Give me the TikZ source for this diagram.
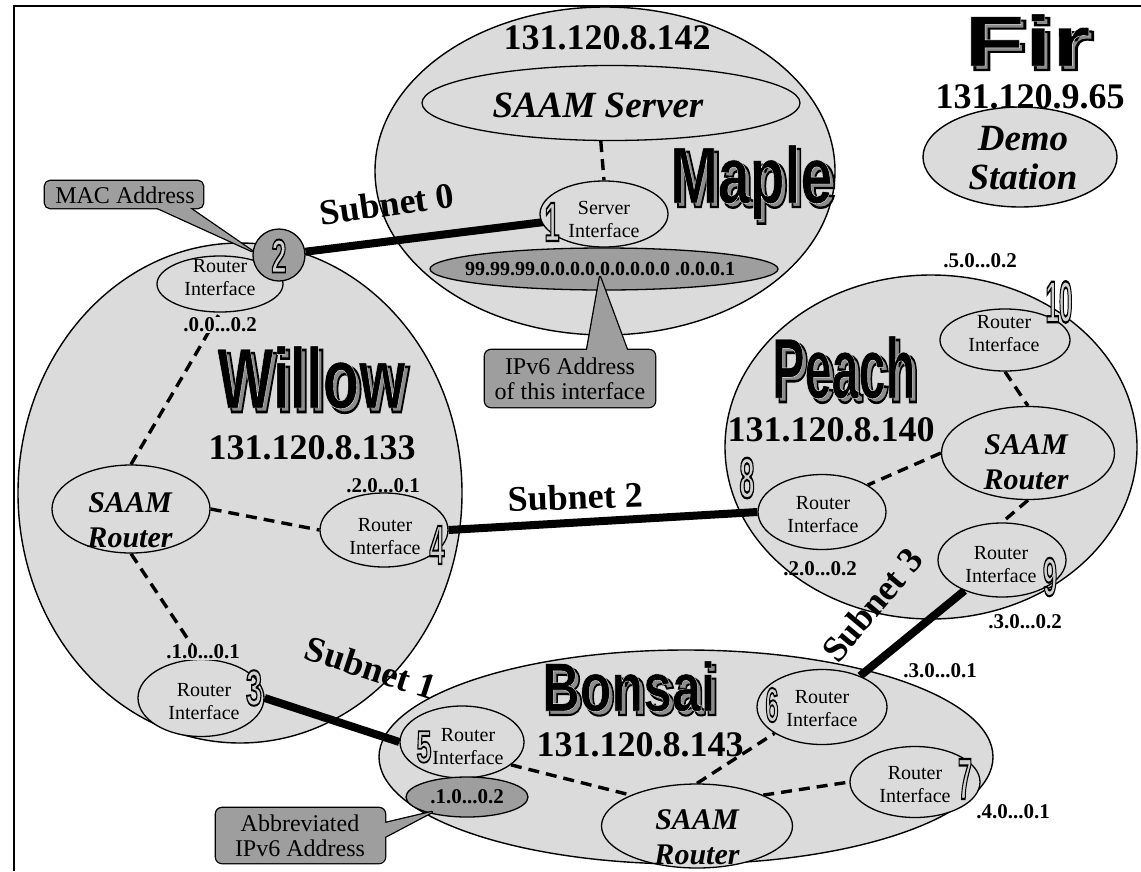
\documentclass[tikz,border=0pt]{standalone}
\usepackage{fontspec}
\usepackage{graphicx}
\setmainfont{Liberation Serif}
\newfontfamily\waOuter{Liberation Sans Bold}[FakeBold=3]
\newfontfamily\waMid{Liberation Sans Bold}[FakeBold=0.5]
\newfontfamily\waDigit{Liberation Sans Bold}[FakeBold=4]
\usetikzlibrary{shapes.geometric}
\pgfdeclarelayer{bg}
\pgfdeclarelayer{lines}
\pgfsetlayers{bg,lines,main}
\colorlet{hostfill}{black!14}
\colorlet{darkfill}{black!38}
\newcommand\strokeblack{\special{pdf:literal direct 0 G}}
\newcommand\strokewhite{\special{pdf:literal direct 1 G}}

% WordArt-like title: gray shadow with black outline, black letters with thin white edge
\newcommand\wordart[6]{%
  \node[wa] (#1-s) at (#2+4,#3+4) {\resizebox{#4pt}{#5pt}{\color{black!45}\strokeblack\waOuter #6}};
  \node[wa] (#1) at (#2,#3) {\resizebox{#4pt}{#5pt}{\color{black}\strokewhite\waMid #6}};
}
% outlined digit: light fill, black outline
\newcommand\digitart[6]{%
  \node[dg] (#1) at (#2,#3) {\resizebox{#4pt}{#5pt}{\color{black!18}\strokeblack\waDigit #6}};
}

\tikzset{
  host/.style={ellipse, draw, line width=1.4pt, fill=hostfill, inner sep=0pt},
  iface/.style={ellipse, draw, line width=1.3pt, fill=hostfill, inner sep=0pt},
  darkell/.style={ellipse, draw, line width=1.3pt, fill=darkfill, inner sep=0pt},
  dashline/.style={line width=3.4pt, dash pattern=on 11pt off 7pt},
  subnetline/.style={line width=8pt},
  wa/.style={anchor=base west, inner sep=0pt, font=\fontsize{50}{50}\selectfont},
  dg/.style={anchor=center, inner sep=0pt, font=\fontsize{50}{50}\selectfont},
  iplabel/.style={font=\bfseries\fontsize{36}{36}\selectfont, inner sep=0pt},
  subnetlabel/.style={font=\bfseries\fontsize{36}{36}\selectfont, inner sep=0pt},
  addrlabel/.style={font=\bfseries\fontsize{21}{21}\selectfont, inner sep=1pt},
  ritext/.style={font=\fontsize{20}{23}\selectfont, align=center, inner sep=0pt},
  saamtext/.style={font=\bfseries\itshape\fontsize{30}{35}\selectfont, align=center, inner sep=0pt},
  bigsaam/.style={font=\bfseries\itshape\fontsize{37}{39}\selectfont, align=center, inner sep=0pt},
  calltext/.style={font=\fontsize{24}{25}\selectfont, align=center, inner sep=0pt},
  callout/.style={line width=2.6pt, line join=round},
}

\begin{document}
\begin{tikzpicture}[x=1pt,y=-1pt]
\useasboundingbox (0,0) rectangle (1141,871);

\begin{pgfonlayer}{bg}
  \fill[white] (0,0) rectangle (1141,871);
  \draw[line width=1.8pt] (14,871) -- (14,6) -- (1141,6);
  % hosts
  \node[host, minimum width=460, minimum height=328] (maple) at (605,171) {};
  \node[host, minimum width=444, minimum height=500] (willow) at (240,493) {};
  \node[host, minimum width=412, minimum height=344] (peach) at (931,447) {};
  \node[host, minimum width=614, minimum height=214] (bonsai) at (686,757) {};
  \node[host, minimum width=194, minimum height=100] (fir) at (1020,157) {};
\end{pgfonlayer}

% inner ellipses
\node[iface, minimum width=378, minimum height=75] (sserver) at (611,103) {};
\node[iface, minimum width=128, minimum height=66] (si) at (604,214) {};
\node[darkell, minimum width=348, minimum height=42] (v6e) at (604,269) {};

\node[iface, minimum width=126, minimum height=56] (ri2) at (220,284) {};
\node[iface, minimum width=158, minimum height=88] (wsr) at (131,509) {};
\node[iface, minimum width=128, minimum height=74] (ri4) at (384,530) {};
\node[iface, minimum width=126, minimum height=77] (ri3) at (201,698) {};

\node[iface, minimum width=130, minimum height=62] (ri10) at (1005,340) {};
\node[iface, minimum width=173, minimum height=93] (psr) at (1028,453) {};
\node[iface, minimum width=128, minimum height=75] (ri8) at (822,512) {};
\node[iface, minimum width=128, minimum height=74] (ri9) at (1002,560) {};

\node[iface, minimum width=124, minimum height=72] (ri5) at (462,742) {};
\node[iface, minimum width=130, minimum height=75] (ri6) at (822,707) {};
\node[iface, minimum width=130, minimum height=71] (ri7) at (915,782) {};
\node[iface, minimum width=191, minimum height=84] (bsr) at (697,826) {};
\node[darkell, minimum width=122, minimum height=40] (abe) at (467,797) {};

% callouts
\draw[callout, rounded corners=5pt] (45,181) rectangle (203,208);
\draw[callout] (140,200) -- (252,251) -- (178,200);
\fill[darkfill, rounded corners=5pt] (45,181) rectangle (203,208);
\fill[darkfill] (140,200) -- (252,251) -- (178,200) -- cycle;

\draw[callout, rounded corners=6pt] (485,350) rectangle (655,407);
\draw[callout] (585.6,358) -- (600,277) -- (630,358);
\fill[darkfill, rounded corners=6pt] (485,350) rectangle (655,407);
\fill[darkfill] (585.6,358) -- (600,277) -- (630,358) -- cycle;

\draw[callout, rounded corners=6pt] (216,808) rectangle (385,863);
\draw[callout] (377,825) -- (432,812) -- (377,841);
\fill[darkfill, rounded corners=6pt] (216,808) rectangle (385,863);
\fill[darkfill] (377,825) -- (432,812) -- (377,841) -- cycle;

\node[circle, draw, line width=1.3pt, fill=darkfill, minimum size=52, inner sep=0pt] (c2) at (279,255) {};

% titles
\wordart{tmaple}{670}{203}{162}{58}{Maple}
\wordart{twillow}{217}{408}{188}{62}{Willow}
\wordart{tpeach}{772}{398}{143}{62}{Peach}
\wordart{tbonsai}{542}{711}{173}{50}{Bonsai}
\wordart{tfir}{964}{66}{126}{52}{Fir}

% digits
\digitart{d1}{552}{222}{15}{38}{1}
\digitart{d2}{279}{256}{15}{33}{2}
\digitart{d3}{254}{688}{16}{35}{3}
\digitart{d4}{437}{545}{15}{38}{4}
\digitart{d5}{424}{747}{15}{31}{5}
\digitart{d6}{772}{705}{13}{34}{6}
\digitart{d7}{965}{779}{14}{40}{7}
\digitart{d8}{747}{478}{15}{40}{8}
\digitart{d9}{1050}{577}{14}{38}{9}
\digitart{d10}{1059}{302}{27}{41}{10}

% IP addresses of hosts
\node[iplabel] (ipmaple) at (607,38) {131.120.8.142};
\node[iplabel] (ipfir) at (1030,97) {131.120.9.65};
\node[iplabel] (ipwillow) at (312,448) {131.120.8.133};
\node[iplabel] (ippeach) at (831,430) {131.120.8.140};
\node[iplabel] (ipbonsai) at (640,745) {131.120.8.143};

% inner texts
\node[bigsaam] (tss) at (598,105) {SAAM Server};
\node[bigsaam] (tdemo) at (1023,158) {Demo\\Station};
\node[saamtext] (twsr) at (130,520) {SAAM\\Router};
\node[saamtext] (tpsr) at (1026,462) {SAAM\\Router};
\node[saamtext] (tbsr) at (697,837) {SAAM\\Router};

\node[ritext] (tsi) at (604,219) {Server\\Interface};
\node[ritext] (tri2) at (220,278) {Router\\Interface};
\node[ritext] (tri3) at (204,702) {Router\\Interface};
\node[ritext] (tri4) at (385,537) {Router\\Interface};
\node[ritext] (tri5) at (468,747) {Router\\Interface};
\node[ritext] (tri6) at (822,709) {Router\\Interface};
\node[ritext] (tri7) at (915,785) {Router\\Interface};
\node[ritext] (tri8) at (823,515) {Router\\Interface};
\node[ritext] (tri9) at (1001,565) {Router\\Interface};
\node[ritext] (tri10) at (1004,334) {Router\\Interface};

% address labels
\node[addrlabel, font=\bfseries\fontsize{20}{20}\selectfont] (a6full) at (600,269) {99.99.99.0.0.0.0.0.0.0.0.0 .0.0.0.1};
\node[addrlabel, fill=hostfill] (a2) at (220,325) {.0.0...0.2};
\node[addrlabel] (a4) at (383,486) {.2.0...0.1};
\node[addrlabel, fill=hostfill] (a3) at (203,652) {.1.0...0.1};
\node[addrlabel] (a5) at (467,797) {.1.0...0.2};
\node[addrlabel] (a8) at (820,569) {.2.0...0.2};
\node[addrlabel] (a9) at (1025,622) {.3.0...0.2};
\node[addrlabel] (a6) at (940,671) {.3.0...0.1};
\node[addrlabel] (a7) at (1013,812) {.4.0...0.1};
\node[addrlabel] (a10) at (980,261) {.5.0...0.2};

% callout texts
\node[calltext] (tmac) at (125,195) {MAC Address};
\node[calltext] (tv6) at (570,379) {IPv6 Address\\of this interface};
\node[calltext] (tabbr) at (300,836) {Abbreviated\\IPv6 Address};

% subnet labels
\node[subnetlabel, rotate=8] (s0) at (387,204) {Subnet 0};
\node[subnetlabel, rotate=2] (s2) at (576,497) {Subnet 2};
\node[subnetlabel, rotate=-18] (s1) at (371,668) {Subnet 1};
\node[subnetlabel, rotate=50] (s3) at (872,605) {Subnet 3};

\begin{pgfonlayer}{lines}
  \draw[dashline] (sserver.255) -- (si.north);
  \draw[dashline] (wsr.north) -- (ri2.south);
  \draw[dashline] (wsr.east) -- (ri4.west);
  \draw[dashline] (wsr.south) -- (ri3.north);
  \draw[dashline] (ri10.south) -- (psr.north);
  \draw[dashline] (psr.west) -- (ri8.north east);
  \draw[dashline] (psr.south) -- (ri9.north);
  \draw[dashline] (ri5.-25) -- (bsr.155);
  \draw[dashline] (bsr.north) -- (ri6.209);
  \draw[dashline] (bsr.25) -- (ri7.west);
  \draw[subnetline] (c2) -- (d1.west);
  \draw[subnetline] (ri4.east) -- (ri8.west);
  \draw[subnetline] (ri3.east) -- (ri5.west);
  \draw[subnetline] (ri6) -- (ri9);
\end{pgfonlayer}
\end{tikzpicture}
\end{document}
